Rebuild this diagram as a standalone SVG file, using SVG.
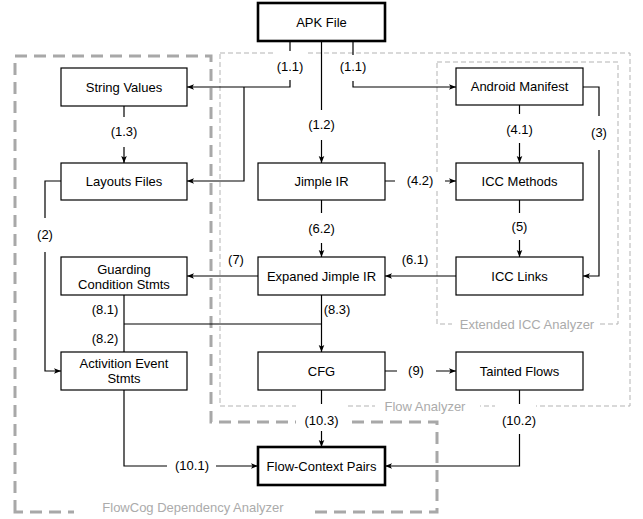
<svg xmlns="http://www.w3.org/2000/svg" width="643" height="519" viewBox="0 0 643 519">
<style>
.box{fill:#fff;stroke:#000;stroke-width:1.2}
.thick{stroke-width:2.6}
.t{font-family:"Liberation Sans",Arial,sans-serif;font-size:13px;fill:#000;text-anchor:middle}
.gl{fill:#ababab}
.edge{fill:none;stroke:#000;stroke-width:1.2}
.bg{fill:#fff}
.grpA{fill:none;stroke:#a8a8a8;stroke-width:3;stroke-dasharray:12 7}
.grpB{fill:none;stroke:#b3b3b3;stroke-width:1;stroke-dasharray:5 3}
</style>
<defs>
<marker id="a" markerWidth="8" markerHeight="8" refX="7" refY="4" orient="auto" markerUnits="userSpaceOnUse">
<path d="M0,1.2 L7,4 L0,6.8 L1.6,4 z" fill="#000"/>
</marker>
</defs>

<g id="groups">
<path class="grpA" d="M15,512 V56 H211 V422 H437 V512 Z"/>
<rect class="grpB" x="220" y="53" width="410" height="353"/>
<rect class="grpB" x="437" y="62" width="181" height="262"/>
</g>

<g id="connectors">
<path class="edge" marker-end="url(#a)" d="M290,41 V87 H187"/>
<path class="edge" marker-end="url(#a)" d="M244,87 V181 H187"/>
<path class="edge" marker-end="url(#a)" d="M321.5,41 V163"/>
<path class="edge" marker-end="url(#a)" d="M353,41 V87 H456"/>
<path class="edge" marker-end="url(#a)" d="M124,106 V163"/>
<path class="edge" marker-end="url(#a)" d="M61,181 H45 V371 H61"/>
<path class="edge" marker-end="url(#a)" d="M519.5,105 V163"/>
<path class="edge" marker-end="url(#a)" d="M583,87 H599 V276 H583"/>
<path class="edge" marker-end="url(#a)" d="M385,181 H456"/>
<path class="edge" marker-end="url(#a)" d="M519.5,200 V257"/>
<path class="edge" marker-end="url(#a)" d="M321.5,200 V257"/>
<path class="edge" marker-end="url(#a)" d="M456,276 H385"/>
<path class="edge" marker-end="url(#a)" d="M258,276 H187"/>
<path class="edge" d="M124,295 V352"/>
<path class="edge" d="M124,324 H321.5"/>
<path class="edge" marker-end="url(#a)" d="M321.5,295 V352"/>
<path class="edge" marker-end="url(#a)" d="M385,371 H456"/>
<path class="edge" marker-end="url(#a)" d="M321.5,390 V447"/>
<path class="edge" marker-end="url(#a)" d="M124,390 V466 H258"/>
<path class="edge" marker-end="url(#a)" d="M519.5,390 V466 H385"/>

<rect class="bg" x="273" y="51" width="34" height="29"/>
<rect class="bg" x="336" y="55" width="34" height="26"/>
<rect class="bg" x="305" y="110" width="33" height="30"/>
<rect class="bg" x="107" y="117" width="34" height="30"/>
<rect class="bg" x="35" y="218" width="20" height="34"/>
<rect class="bg" x="502" y="114" width="35" height="29"/>
<rect class="bg" x="589" y="116" width="20" height="34"/>
<rect class="bg" x="395" y="172" width="50" height="18"/>
<rect class="bg" x="507" y="213" width="25" height="27"/>
<rect class="bg" x="305" y="213" width="33" height="30"/>
<rect class="bg" x="397" y="362" width="39" height="18"/>
<rect class="bg" x="296" y="404" width="50" height="27"/>
<rect class="bg" x="495" y="404" width="41" height="30"/>
<rect class="bg" x="167" y="457" width="49" height="18"/>

<text class="t" x="290" y="71">(1.1)</text>
<text class="t" x="353" y="71">(1.1)</text>
<text class="t" x="321.5" y="129">(1.2)</text>
<text class="t" x="124" y="136">(1.3)</text>
<text class="t" x="45" y="239">(2)</text>
<text class="t" x="519.5" y="134">(4.1)</text>
<text class="t" x="599" y="137">(3)</text>
<text class="t" x="420" y="185">(4.2)</text>
<text class="t" x="519.5" y="231">(5)</text>
<text class="t" x="321.5" y="233">(6.2)</text>
<text class="t" x="415" y="264">(6.1)</text>
<text class="t" x="236" y="264">(7)</text>
<text class="t" x="105" y="314">(8.1)</text>
<text class="t" x="105" y="343">(8.2)</text>
<text class="t" x="337" y="314">(8.3)</text>
<text class="t" x="416" y="375">(9)</text>
<text class="t" x="321.5" y="425">(10.3)</text>
<text class="t" x="519" y="425">(10.2)</text>
<text class="t" x="192" y="470">(10.1)</text>
</g>

<g id="group-labels">
<rect class="bg" x="74" y="505" width="239" height="14"/>
<text class="t gl" x="193" y="512">FlowCog Dependency Analyzer</text>
<rect class="bg" x="375" y="400" width="105" height="12"/>
<text class="t gl" x="425" y="411">Flow Analyzer</text>
<rect class="bg" x="452" y="318" width="145" height="12"/>
<text class="t gl" x="527" y="328.5">Extended ICC Analyzer</text>
</g>

<g id="apk"><rect class="box thick" x="258" y="3" width="127" height="38"/><text class="t" x="321.5" y="26.5">APK File</text></g>
<g id="string-values"><rect class="box" x="61" y="68" width="126" height="38"/><text class="t" x="124" y="91.5">String Values</text></g>
<g id="layouts-files"><rect class="box" x="61" y="163" width="126" height="37"/><text class="t" x="124" y="186">Layouts Files</text></g>
<g id="jimple-ir"><rect class="box" x="258" y="163" width="127" height="37"/><text class="t" x="321.5" y="186">Jimple IR</text></g>
<g id="android-manifest"><rect class="box" x="456" y="68" width="127" height="37"/><text class="t" x="519.5" y="91">Android Manifest</text></g>
<g id="icc-methods"><rect class="box" x="456" y="163" width="127" height="37"/><text class="t" x="519.5" y="186">ICC Methods</text></g>
<g id="icc-links"><rect class="box" x="456" y="257" width="127" height="38"/><text class="t" x="519.5" y="280.5">ICC Links</text></g>
<g id="expaned-jimple-ir"><rect class="box" x="258" y="257" width="127" height="38"/><text class="t" x="321.5" y="280.5">Expaned Jimple IR</text></g>
<g id="guarding"><rect class="box" x="61" y="257" width="126" height="38"/><text class="t" x="124" y="273.5">Guarding</text><text class="t" x="124" y="289">Condition Stmts</text></g>
<g id="activition"><rect class="box" x="61" y="352" width="126" height="38"/><text class="t" x="124" y="368">Activition Event</text><text class="t" x="124" y="383">Stmts</text></g>
<g id="cfg"><rect class="box" x="258" y="352" width="127" height="38"/><text class="t" x="321.5" y="375.5">CFG</text></g>
<g id="tainted-flows"><rect class="box" x="456" y="352" width="127" height="38"/><text class="t" x="519.5" y="375.5">Tainted Flows</text></g>
<g id="flow-context-pairs"><rect class="box thick" x="258" y="447" width="127" height="38"/><text class="t" x="321.5" y="470.5">Flow-Context Pairs</text></g>
</svg>
